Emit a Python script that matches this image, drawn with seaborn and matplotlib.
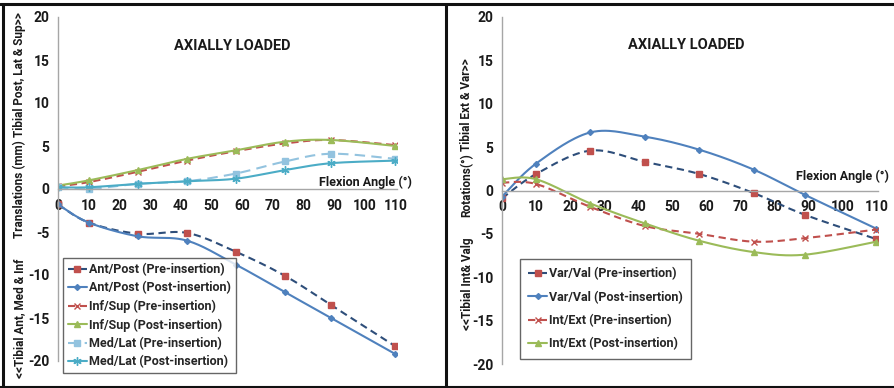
import numpy as np
import pandas as pd
import matplotlib
matplotlib.use("Agg")
import matplotlib.pyplot as plt
from matplotlib.lines import Line2D
import seaborn as sns

# ---------------- data ----------------
flexion = [0, 10, 26, 42, 58, 74, 89, 110]
x_ticks = [0, 10, 20, 30, 40, 50, 60, 70, 80, 90, 100, 110]
y_ticks = [-20, -15, -10, -5, 0, 5, 10, 15, 20]

ant_post_pre = [-1.8, -3.9, -5.2, -5.1, -7.3, -10.1, -13.5, -18.3]
ant_post_post = [-1.8, -3.9, -5.5, -6.0, -8.8, -12.0, -15.0, -19.2]
inf_sup_pre = [0.3, 0.8, 2.0, 3.3, 4.4, 5.3, 5.7, 5.1]
inf_sup_post = [0.4, 1.0, 2.2, 3.5, 4.5, 5.5, 5.7, 5.0]
med_lat_pre = [0.2, 0.0, 0.6, 0.9, 1.8, 3.2, 4.1, 3.5]
med_lat_post = [0.2, 0.2, 0.6, 0.9, 1.2, 2.2, 3.0, 3.3]

var_val_pre = [-0.9, 1.9, 4.6, 3.3, 1.9, -0.3, -2.8, -5.6]
var_val_post = [-0.7, 3.1, 6.7, 6.2, 4.7, 2.4, -0.5, -4.4]
int_ext_pre = [0.9, 0.75, -1.9, -4.1, -5.0, -5.9, -5.5, -4.5]
int_ext_post = [1.3, 1.3, -1.5, -3.8, -5.8, -7.1, -7.4, -5.9]

left_labels = ["Ant/Post (Pre-insertion)", "Ant/Post (Post-insertion)",
               "Inf/Sup (Pre-insertion)", "Inf/Sup (Post-insertion)",
               "Med/Lat (Pre-insertion)", "Med/Lat (Post-insertion)"]
right_labels = ["Var/Val (Pre-insertion)", "Var/Val (Post-insertion)",
                "Int/Ext (Pre-insertion)", "Int/Ext (Post-insertion)"]
title_text = "AXIALLY LOADED"
xlabel_text = "Flexion Angle (\u00b0)"

# ---------------- style ----------------
sns.set_theme(style="white")
plt.rcParams["font.family"] = ["Roboto", "DejaVu Sans"]
plt.rcParams["font.weight"] = "bold"
plt.rcParams["axes.unicode_minus"] = False

W, H = 894, 388
fig = plt.figure(figsize=(W / 100, H / 100), dpi=100)

RED = "#C0504D"
NAVY = "#2E4E7A"
BLUE = "#4F81BD"
GREEN = "#9BBB59"
LBLUE = "#93C3DF"
TEAL = "#4BACC6"
AXC = "#A6A6A6"
TXT = "#1a1a1a"
FS = 9
FSY = 8.5


def smooth(xv, yv, n=30):
    """Excel-like smoothed line (Catmull-Rom Bezier) through the given points."""
    P = np.column_stack([xv, yv]).astype(float)
    out = []
    for i in range(len(P) - 1):
        p0 = P[i - 1] if i > 0 else P[i]
        p1, p2 = P[i], P[i + 1]
        p3 = P[i + 2] if i + 2 < len(P) else P[i + 1]
        c1 = p1 + (p2 - p0) / 6.0
        c2 = p2 - (p3 - p1) / 6.0
        t = np.linspace(0, 1, n)[:, None]
        seg = ((1 - t) ** 3) * p1 + 3 * ((1 - t) ** 2) * t * c1 + 3 * (1 - t) * t ** 2 * c2 + t ** 3 * p2
        out.append(seg if i == 0 else seg[1:])
    s = np.vstack(out)
    return s[:, 0], s[:, 1]


def draw_series(ax, yv, color, ls, marker, mcolor, ms, mew=1.0):
    sx, sy = smooth(flexion, yv)
    df = pd.DataFrame({"x": sx, "y": sy})
    sns.lineplot(data=df, x="x", y="y", ax=ax, color=color, lw=1.5,
                 sort=False, estimator=None, legend=False)
    line = ax.lines[-1]
    line.set_linestyle(ls)
    filled = marker not in ("x", "+", (6, 2, 0))
    ax.plot(flexion, yv, linestyle="none", marker=marker, markersize=ms,
            markerfacecolor=mcolor if filled else "none",
            markeredgecolor=mcolor, markeredgewidth=mew)
    return Line2D([], [], color=color, lw=1.5, linestyle=ls, marker=marker,
                  markersize=ms, markerfacecolor=mcolor if filled else "none",
                  markeredgecolor=mcolor, markeredgewidth=mew)


def setup_axes(ax):
    ax.set_xlim(0, 110.5)
    ax.set_ylim(-20, 20)
    for s in ("top", "right"):
        ax.spines[s].set_visible(False)
    ax.spines["left"].set_color(AXC)
    ax.spines["left"].set_linewidth(1.0)
    ax.spines["bottom"].set_position(("data", 0))
    ax.spines["bottom"].set_color(AXC)
    ax.spines["bottom"].set_linewidth(1.0)
    ax.set_xticks(x_ticks)
    ax.set_yticks(y_ticks)
    ax.set_xticklabels([str(v) for v in x_ticks])
    ax.set_yticklabels([str(v) for v in y_ticks])
    ax.tick_params(axis="x", direction="out", length=3, width=1, color=AXC,
                   pad=4, labelsize=10, labelcolor=TXT)
    ax.tick_params(axis="y", direction="out", length=3, width=1, color=AXC,
                   pad=3, labelsize=10, labelcolor=TXT)
    for lab in ax.get_xticklabels() + ax.get_yticklabels():
        lab.set_fontweight("bold")
    ax.set_xlabel("")
    ax.set_ylabel("")
    ax.patch.set_alpha(0)


DASH = (0, (3.5, 2.2))
DASH_L = (0, (5, 3))

# ---------------- left panel ----------------
axL = fig.add_axes([58 / W, 1 - 361 / H, 339 / W, 344 / H])
hL = []
hL.append(draw_series(axL, ant_post_pre, NAVY, DASH, "s", RED, 5))
hL.append(draw_series(axL, ant_post_post, BLUE, "-", "D", BLUE, 3))
hL.append(draw_series(axL, inf_sup_pre, RED, DASH, "x", RED, 4.5))
hL.append(draw_series(axL, inf_sup_post, GREEN, "-", "^", GREEN, 5))
hL.append(draw_series(axL, med_lat_pre, LBLUE, DASH_L, "s", LBLUE, 5))
hL.append(draw_series(axL, med_lat_post, TEAL, "-", (6, 2, 0), TEAL, 6))
setup_axes(axL)
axL.text(0.515, 0.915, title_text, transform=axL.transAxes, ha="center",
         va="center", fontsize=10.5, fontweight="bold", color=TXT)
axL.text(1.045, 0.5 + 7 / 344, xlabel_text, transform=axL.transAxes,
         ha="right", va="center", fontsize=FS, fontweight="bold", color=TXT)

legL = fig.legend(hL, left_labels, loc="upper left",
                  bbox_to_anchor=(63 / W, 1 - 258 / H), frameon=True,
                  handlelength=1.5, handletextpad=0.2,
                  labelspacing=0.42, borderpad=0.4, borderaxespad=0,
                  prop={"weight": "bold", "size": FS})
legL.get_frame().set_edgecolor("#404040")
legL.get_frame().set_linewidth(1.0)
legL.get_frame().set_boxstyle("square", pad=0)

# left y labels
fig.text(20 / W, 1 - 75 / H, "Tibial Post, Lat & Sup>>", rotation=90,
         ha="center", va="center", fontsize=FSY, fontweight="bold", color=TXT)
fig.text(20 / W, 1 - 189 / H, "Translations (mm)", rotation=90,
         ha="center", va="center", fontsize=FSY, fontweight="bold", color=TXT)
fig.text(20 / W, 1 - 318 / H, "<<Tibial Ant, Med & Inf", rotation=90,
         ha="center", va="center", fontsize=FSY, fontweight="bold", color=TXT)

# ---------------- right panel ----------------
axR = fig.add_axes([502 / W, 1 - 364 / H, 376 / W, 347 / H])
hR = []
hR.append(draw_series(axR, var_val_pre, NAVY, DASH, "s", RED, 5))
hR.append(draw_series(axR, var_val_post, BLUE, "-", "D", BLUE, 3))
hR.append(draw_series(axR, int_ext_pre, RED, DASH, "x", RED, 4.5))
hR.append(draw_series(axR, int_ext_post, GREEN, "-", "^", GREEN, 5))
setup_axes(axR)
axR.text(0.49, 0.92, title_text, transform=axR.transAxes, ha="center",
         va="center", fontsize=10.5, fontweight="bold", color=TXT)
axR.text(1.03, 0.5 + 14 / 347, xlabel_text, transform=axR.transAxes,
         ha="right", va="center", fontsize=FS, fontweight="bold", color=TXT)

legR = fig.legend(hR, right_labels, loc="upper left",
                  bbox_to_anchor=(520 / W, 1 - 259 / H), frameon=True,
                  handlelength=1.5, handletextpad=0.2,
                  labelspacing=0.82, borderpad=0.65, borderaxespad=0,
                  prop={"weight": "bold", "size": FS})
legR.get_frame().set_edgecolor("#404040")
legR.get_frame().set_linewidth(1.0)
legR.get_frame().set_boxstyle("square", pad=0)

fig.text(467 / W, 1 - 105 / H, "Tibial Ext & Var>>", rotation=90,
         ha="center", va="center", fontsize=FSY, fontweight="bold", color=TXT)
fig.text(467 / W, 1 - 185 / H, "Rotations(\u00b0)", rotation=90,
         ha="center", va="center", fontsize=FSY, fontweight="bold", color=TXT)
fig.text(467 / W, 1 - 284 / H, "<<Tibial Int& Valg", rotation=90,
         ha="center", va="center", fontsize=FSY, fontweight="bold", color=TXT)

# ---------------- frame lines ----------------
for (x0, y0, x1, y1, lw) in [(0, 4, W, 4, 2.2), (3, 4, 3, 387, 2.2),
                             (0, 386.5, W, 386.5, 1.5), (446, 4, 446, 388, 2.2)]:
    fig.add_artist(Line2D([x0 / W, x1 / W], [1 - y0 / H, 1 - y1 / H],
                          transform=fig.transFigure, color="#111111", lw=lw))

fig.savefig("out.png", dpi=100)
